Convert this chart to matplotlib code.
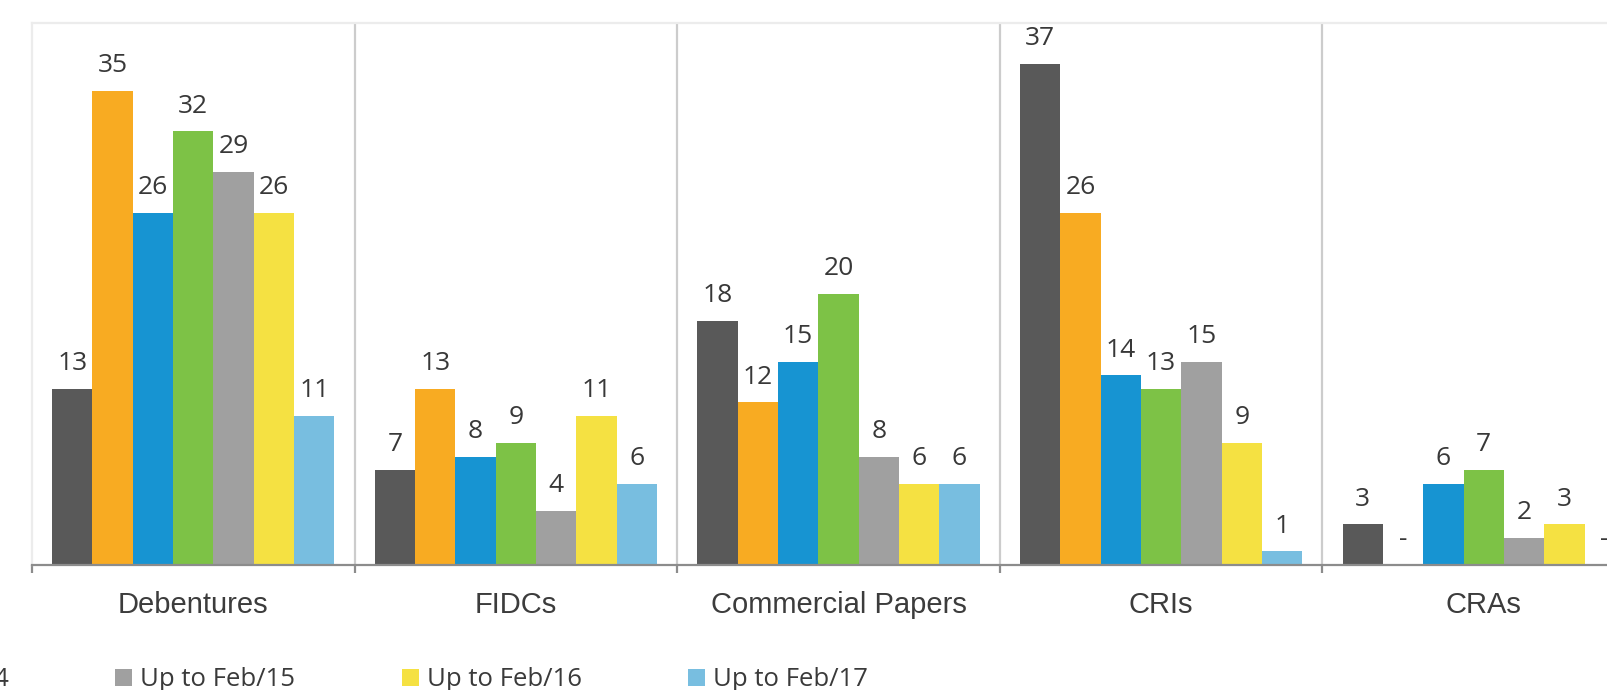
import matplotlib
matplotlib.use('Agg')
import matplotlib.pyplot as plt
import numpy as np
from matplotlib.patches import Patch

categories = ["Debentures", "FIDCs", "Commercial Papers", "CRIs", "CRAs"]
series = ["Up to Feb/11", "Up to Feb/12", "Up to Feb/13", "Up to Feb/14",
          "Up to Feb/15", "Up to Feb/16", "Up to Feb/17"]
feb11 = [13, 7, 18, 37, 3]
feb12 = [35, 13, 12, 26, 0]
feb13 = [26, 8, 15, 14, 6]
feb14 = [32, 9, 20, 13, 7]
feb15 = [29, 4, 8, 15, 2]
feb16 = [26, 11, 6, 9, 3]
feb17 = [11, 6, 6, 1, 0]
values = [feb11, feb12, feb13, feb14, feb15, feb16, feb17]
colors = ["#595959", "#F8AB22", "#1794D2", "#7DC246", "#A0A0A0", "#F5E142", "#78BEE0"]

W, H = 1608, 690
fig = plt.figure(figsize=(W / 100, H / 100), dpi=100)
cat_w = 322.6
x0, ytop, ybot = 32, 23, 565
ax = fig.add_axes([x0 / W, (H - ybot) / H, len(categories) * cat_w / W, (ybot - ytop) / H])

lab_font = ['Open Sans', 'DejaVu Sans']
txt_col = '#383838'
n = len(series)
bw = 1.0 / (n + 1)
xs = np.arange(len(categories))
for j, (name, vals, c) in enumerate(zip(series, values, colors)):
    pos = xs + (j - (n - 1) / 2) * bw
    ax.bar(pos, vals, width=bw, color=c, edgecolor='none', zorder=2, label=name)
    for p, v in zip(pos, vals):
        ax.annotate(str(v) if v else '-', (p, v), xytext=(0, 13.5), textcoords='offset points',
                    ha='center', va='baseline', fontsize=19, color=txt_col, family=lab_font)

ax.set_xlim(-0.5, len(categories) - 0.5)
ax.set_ylim(0, 40)
ax.set_yticks([])
for b in np.arange(0.5, len(categories) - 0.5, 1.0):
    ax.axvline(b, color='#cccccc', lw=1.6, zorder=1)

ax.set_xticks(xs)
ax.set_xticklabels(categories, fontsize=21, color='#3c3c3c', family=['Liberation Sans', 'DejaVu Sans'])
ax.tick_params(axis='x', which='major', length=0, pad=18.5)
ax.set_xticks(np.arange(-0.5, len(categories), 1.0), minor=True)
ax.tick_params(axis='x', which='minor', length=6, width=1.6, color='#8c8c8c', direction='out')

for s in ['top', 'left']:
    ax.spines[s].set_color('#ececec')
    ax.spines[s].set_linewidth(1.6)
ax.spines['right'].set_visible(False)
ax.spines['bottom'].set_color('#8c8c8c')
ax.spines['bottom'].set_linewidth(1.6)
ax.spines['bottom'].set_zorder(3)

# legend
fs = 18.5
fs_px = fs * 100 / 72
handles = [Patch(facecolor=c, edgecolor='none') for c in colors]


def make_leg(cs, anchor):
    return fig.legend(handles, series, ncol=n, loc='lower left', bbox_to_anchor=anchor,
                      frameon=False, prop={'family': lab_font, 'size': fs}, labelcolor='#3a3a3a',
                      handlelength=17 / fs_px, handleheight=17 / fs_px, handletextpad=8 / fs_px,
                      columnspacing=cs, borderpad=0, borderaxespad=0)


cs = 4.0
leg = make_leg(cs, (0, 0))
fig.canvas.draw()
r = fig.canvas.get_renderer()
e4 = leg.legend_handles[4].get_window_extent(r)
e5 = leg.legend_handles[5].get_window_extent(r)
pitch = e5.x0 - e4.x0
cs = cs + (286.5 - pitch) / fs_px
leg.remove()
leg = make_leg(cs, (0, 0))
fig.canvas.draw()
e4 = leg.legend_handles[4].get_window_extent(r)
dx = 115 - e4.x0
dy = 4 - e4.y0
leg.remove()
leg = make_leg(cs, (dx / W, dy / H))

fig.savefig('out.png', dpi=100)
